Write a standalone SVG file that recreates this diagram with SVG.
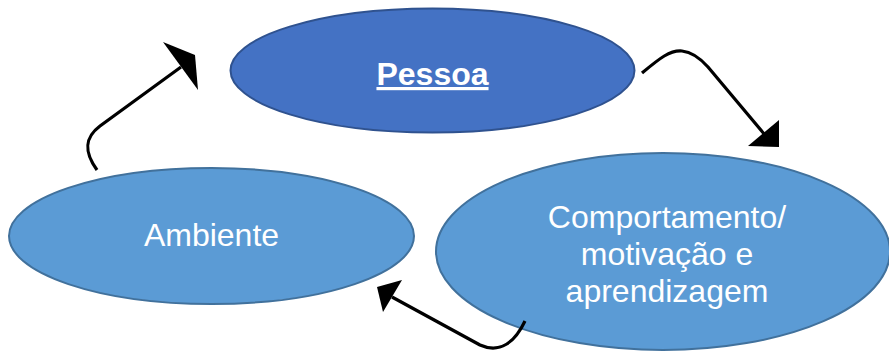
<svg xmlns="http://www.w3.org/2000/svg" width="889" height="353" viewBox="0 0 889 353">
<style>
.lbl{font-family:"Liberation Sans",Arial,sans-serif;font-size:32px;fill:#ffffff;text-anchor:middle}
.conn{fill:none;stroke:#000000;stroke-width:3.2;stroke-linecap:butt;stroke-linejoin:round}
.head{fill:#000000;stroke:none}
</style>
<rect width="889" height="353" fill="#ffffff"/>
<g id="node-pessoa">
<ellipse cx="432.5" cy="70.5" rx="202" ry="62" fill="#4472C4" stroke="#2F528F" stroke-width="2"/>
<text class="lbl" x="432.5" y="85" font-weight="bold" text-decoration="underline">Pessoa</text>
</g>
<g id="node-comportamento">
<ellipse cx="663" cy="251.5" rx="227" ry="98.5" fill="#5B9BD5" stroke="#41719C" stroke-width="2"/>
<text class="lbl" x="667" y="228">Comportamento/</text>
<text class="lbl" x="667" y="265">motivação e</text>
<text class="lbl" x="667" y="302">aprendizagem</text>
</g>
<g id="node-ambiente">
<ellipse cx="211.5" cy="236" rx="202.5" ry="68" fill="#5B9BD5" stroke="#41719C" stroke-width="2"/>
<text class="lbl" x="211.5" y="246">Ambiente</text>
</g>
<g id="connectors">
<path class="conn" d="M97,170 C84,152 84,138 100,126 L181,67"/>
<polygon class="head" points="163,42 195,55 198,90"/>
<path class="conn" d="M642,73 C660,58 670,50 682,51 C692,52 700,58 708,67 L765,135"/>
<polygon class="head" points="748,146 779,120 779,147"/>
<path class="conn" d="M525,321 C515,342 500,354 480,345 L392,297"/>
<polygon class="head" points="377,287 402,280 383,312"/>
</g>
</svg>
